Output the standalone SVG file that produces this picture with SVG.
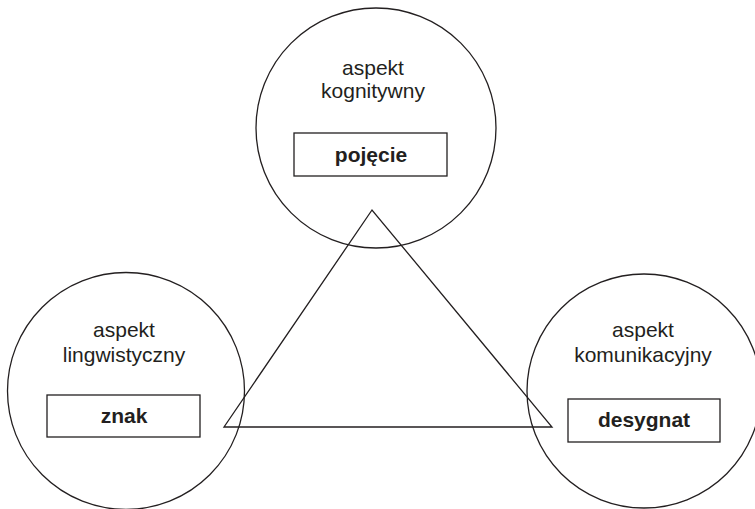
<svg xmlns="http://www.w3.org/2000/svg" width="755" height="509" viewBox="0 0 755 509">
  <style>
    .ring { fill: none; stroke: #231f20; stroke-width: 1.3; }
    .box { fill: #ffffff; stroke: #231f20; stroke-width: 1.3; }
    .lbl { font-family: "Liberation Sans", Arial, sans-serif; font-size: 21px; fill: #231f20; text-anchor: middle; }
    .term { font-family: "Liberation Sans", Arial, sans-serif; font-size: 21px; font-weight: bold; fill: #231f20; text-anchor: middle; }
  </style>
  <rect width="755" height="509" fill="#ffffff"/>

  <!-- triangle linking the three aspects -->
  <g id="connectors">
    <polygon points="372,210 224,427 552,427" class="ring" stroke-linejoin="miter"/>
  </g>

  <g id="kognitywny">
    <circle cx="376" cy="128" r="120" class="ring"/>
    <text x="373" y="75" class="lbl">aspekt</text>
    <text x="373" y="98" class="lbl">kognitywny</text>
    <rect x="294" y="133" width="153" height="43" class="box"/>
    <text x="371" y="162" class="term">pojęcie</text>
  </g>

  <g id="lingwistyczny">
    <circle cx="126" cy="391" r="118.5" class="ring"/>
    <text x="124" y="337" class="lbl">aspekt</text>
    <text x="124" y="362" class="lbl">lingwistyczny</text>
    <rect x="47" y="395" width="153" height="42" class="box"/>
    <text x="124" y="423" class="term">znak</text>
  </g>

  <g id="komunikacyjny">
    <circle cx="644" cy="391" r="117" class="ring"/>
    <text x="643" y="337" class="lbl">aspekt</text>
    <text x="643" y="362" class="lbl">komunikacyjny</text>
    <rect x="568" y="399" width="152" height="43" class="box"/>
    <text x="644" y="427" class="term">desygnat</text>
  </g>
</svg>
